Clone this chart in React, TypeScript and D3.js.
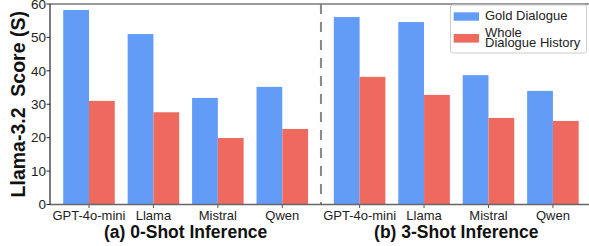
import React from "react";
import { scaleLinear } from "d3";

const models = ["GPT-4o-mini", "Llama", "Mistral", "Qwen"];
const panels = ["(a) 0-Shot Inference", "(b) 3-Shot Inference"];
// gold dialogue / whole dialogue history, per panel
const goldZero = [58.2, 51.0, 31.9, 35.2];
const wholeZero = [31.0, 27.6, 19.9, 22.6];
const goldThree = [56.1, 54.6, 38.7, 34.0];
const wholeThree = [38.2, 32.8, 25.9, 25.0];
const yTicks = [0, 10, 20, 30, 40, 50, 60];

const BLUE = "#639cf6";
const RED = "#ee6a5e";
const FONT = "'Liberation Sans', Arial, sans-serif";

const W = 589;
const H = 246;
const LEFT = 50;
const TOP = 4;
const BOTTOM = 204.5;
const PANEL_GAP = 4.2;
const BAR = 0.4;

export default function App() {
  const x = scaleLinear().domain([-0.605, 7.76]).range([LEFT, W]);
  const y = scaleLinear().domain([0, 60]).range([BOTTOM, TOP]);

  const groups = [
    { gold: goldZero, whole: wholeZero, offset: 0 },
    { gold: goldThree, whole: wholeThree, offset: PANEL_GAP },
  ];
  const divider = x((3 + PANEL_GAP) / 2);

  return (
    <svg width={W} height={H} style={{ position: "absolute", left: 0, top: 0 }} fontFamily={FONT}>
      {groups.map((g, p) => (
        <g key={p}>
          {models.map((m, i) => {
            const c = i + g.offset;
            return (
              <g key={m}>
                <rect
                  x={x(c - BAR)}
                  y={y(g.gold[i])}
                  width={x(c) - x(c - BAR)}
                  height={y(0) - y(g.gold[i])}
                  fill={BLUE}
                />
                <rect
                  x={x(c)}
                  y={y(g.whole[i])}
                  width={x(c + BAR) - x(c)}
                  height={y(0) - y(g.whole[i])}
                  fill={RED}
                />
                <line x1={x(c)} x2={x(c)} y1={BOTTOM} y2={BOTTOM + 3.5} stroke="#555" />
                <text x={x(c)} y={220} fontSize={13} textAnchor="middle" fill="#222">
                  {m}
                </text>
              </g>
            );
          })}
          <text
            x={(x(g.offset) + x(g.offset + 3)) / 2}
            y={238}
            fontSize={17.5}
            fontWeight="bold"
            textAnchor="middle"
            fill="#111"
          >
            {panels[p]}
          </text>
        </g>
      ))}

      <line x1={divider} x2={divider} y1={TOP} y2={BOTTOM} stroke="#888" strokeWidth={2} strokeDasharray="10,8" />

      {/* spines */}
      <line x1={LEFT} x2={W} y1={TOP} y2={TOP} stroke="#777" strokeWidth={1.6} />
      <line x1={LEFT} x2={W} y1={BOTTOM} y2={BOTTOM} stroke="#666" strokeWidth={1.6} />
      <line x1={LEFT} x2={LEFT} y1={TOP} y2={BOTTOM} stroke="#222" strokeWidth={1.2} />

      {yTicks.map((v) => (
        <g key={v} transform={`translate(0, ${y(v)})`}>
          <line x1={LEFT - 3.5} x2={LEFT} stroke="#222" />
          <text x={LEFT - 4} dy="0.35em" fontSize={13.5} textAnchor="end" fill="#222">
            {v}
          </text>
        </g>
      ))}

      <text
        transform={`translate(24.5, ${(TOP + BOTTOM) / 2}) rotate(-90)`}
        fontSize={19.5}
        fontWeight="bold"
        textAnchor="middle"
        fill="#111"
        style={{ whiteSpace: "pre" }}
      >
        {"Llama-3.2  Score (S)"}
      </text>

      {/* legend */}
      <g>
        <rect x={450.5} y={5} width={136} height={48} rx={2} fill="#fff" fillOpacity={0.85} stroke="#ccc" />
        <rect x={453.7} y={12.3} width={25.3} height={8.4} fill={BLUE} />
        <rect x={453.7} y={34} width={25.3} height={8.6} fill={RED} />
        <text x={485} y={20} fontSize={13} fill="#222">Gold Dialogue</text>
        <text x={485} y={36.5} fontSize={13} fill="#222">Whole</text>
        <text x={485} y={46.5} fontSize={13} fill="#222">Dialogue History</text>
      </g>
    </svg>
  );
}
